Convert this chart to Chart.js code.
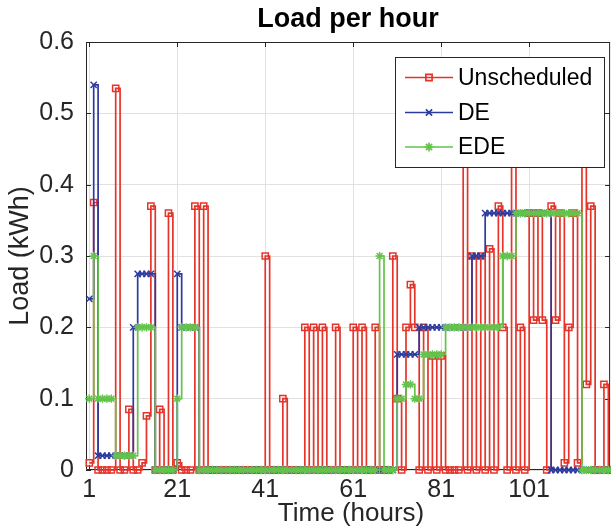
<!DOCTYPE html>
<html>
<head>
<meta charset="utf-8">
<script src="https://cdn.jsdelivr.net/npm/chart.js@4.4.1/dist/chart.umd.min.js"></script>
<style>
  html, body { margin: 0; padding: 0; overflow: hidden; background: #ffffff; }
  #wrap { width: 616px; height: 526px; }
</style>
</head>
<body>
<div id="wrap"><canvas id="c" width="616" height="526"></canvas></div>
<script>
// Hour index of each sample
const hours = [
  1, 2, 3, 4, 5, 6, 7, 8, 9, 10, 11, 12, 13, 14, 15, 16, 17, 18, 19, 20,
  21, 22, 23, 24, 25, 26, 27, 28, 29, 30, 31, 32, 33, 34, 35, 36, 37, 38, 39, 40,
  41, 42, 43, 44, 45, 46, 47, 48, 49, 50, 51, 52, 53, 54, 55, 56, 57, 58, 59, 60,
  61, 62, 63, 64, 65, 66, 67, 68, 69, 70, 71, 72, 73, 74, 75, 76, 77, 78, 79, 80,
  81, 82, 83, 84, 85, 86, 87, 88, 89, 90, 91, 92, 93, 94, 95, 96, 97, 98, 99, 100,
  101, 102, 103, 104, 105, 106, 107, 108, 109, 110, 111, 112, 113, 114, 115, 116, 117, 118, 119, 120
];

// Load (kWh) per hour without scheduling
const unscheduled = [
  0.01, 0.375, 0, 0, 0, 0, 0.535, 0, 0, 0.085, 0, 0, 0.01, 0.076, 0.37, 0, 0.085, 0, 0.36, 0,
  0.01, 0, 0, 0, 0.37, 0, 0.37, 0, 0, 0, 0, 0, 0, 0, 0, 0, 0, 0, 0, 0,
  0.3, 0, 0, 0, 0.1, 0, 0, 0, 0, 0.2, 0, 0.2, 0, 0.2, 0, 0, 0.2, 0, 0, 0,
  0.2, 0, 0.2, 0, 0, 0.2, 0, 0, 0, 0.3, 0.1, 0, 0.2, 0.26, 0.2, 0, 0.2, 0, 0.16, 0,
  0.16, 0, 0, 0, 0, 0.5, 0, 0.3, 0, 0.3, 0, 0.31, 0, 0.37, 0.2, 0, 0.5, 0, 0.2, 0,
  0.36, 0.21, 0.36, 0.21, 0, 0.37, 0.21, 0.36, 0.01, 0.2, 0.36, 0.01, 0.5, 0.12, 0.37, 0, 0, 0.12, 0, 0
];

// Load (kWh) per hour scheduled with DE
const deLoad = [
  0.24, 0.54, 0.02, 0.02, 0.02, 0.02, 0.02, 0.02, 0.02, 0.02, 0.2, 0.275, 0.275, 0.275, 0.275, 0, 0, 0, 0, 0,
  0.275, 0.2, 0.2, 0.2, 0.2, 0, 0, 0, 0, 0, 0, 0, 0, 0, 0, 0, 0, 0, 0, 0,
  0, 0, 0, 0, 0, 0, 0, 0, 0, 0, 0, 0, 0, 0, 0, 0, 0, 0, 0, 0,
  0, 0, 0, 0, 0, 0, 0, 0, 0, 0, 0.162, 0.162, 0.162, 0.162, 0.162, 0.2, 0.2, 0.2, 0.2, 0.2,
  0.2, 0.2, 0.2, 0.2, 0.2, 0.2, 0.2, 0.3, 0.3, 0.3, 0.36, 0.36, 0.36, 0.36, 0.36, 0.36, 0.36, 0.36, 0.36, 0.36,
  0.36, 0.36, 0.36, 0.36, 0.36, 0, 0, 0, 0, 0, 0, 0, 0, 0, 0, 0, 0, 0, 0, 0
];

// Load (kWh) per hour scheduled with EDE
const edeLoad = [
  0.1, 0.3, 0.1, 0.1, 0.1, 0.1, 0.02, 0.02, 0.02, 0.02, 0.02, 0.2, 0.2, 0.2, 0.2, 0, 0, 0, 0, 0,
  0.1, 0.2, 0.2, 0.2, 0.2, 0, 0, 0, 0, 0, 0, 0, 0, 0, 0, 0, 0, 0, 0, 0,
  0, 0, 0, 0, 0, 0, 0, 0, 0, 0, 0, 0, 0, 0, 0, 0, 0, 0, 0, 0,
  0, 0, 0, 0, 0, 0, 0.3, 0, 0, 0, 0.1, 0.1, 0.12, 0.12, 0.1, 0.1, 0.162, 0.162, 0.162, 0.162,
  0.162, 0.2, 0.2, 0.2, 0.2, 0.2, 0.2, 0.2, 0.2, 0.2, 0.2, 0.2, 0.2, 0.2, 0.3, 0.3, 0.3, 0.36, 0.36, 0.36,
  0.36, 0.36, 0.36, 0.36, 0.36, 0.36, 0.36, 0.36, 0.36, 0.36, 0.36, 0.36, 0, 0, 0, 0, 0, 0, 0, 0
];

const seriesNames = ['Unscheduled', 'DE', 'EDE'];
const xTickValues = [1, 21, 41, 61, 81, 101];
const xTickLabels = ['1', '21', '41', '61', '81', '101'];
const yTickValues = [0, 0.1, 0.2, 0.3, 0.4, 0.5, 0.6];
const yTickLabels = ['0', '0.1', '0.2', '0.3', '0.4', '0.5', '0.6'];

const RED = '#e5352b';
const BLUE = '#2c3b9f';
const GREEN = '#63c34b';
const AXIS = '#262626';
const FONT = "'Liberation Sans', Arial, Helvetica, sans-serif";

function pts(ys) { return hours.map((h, i) => ({ x: h, y: ys[i] })); }

function drawMarker(ctx, style, x, y, r) {
  ctx.beginPath();
  if (style === 'rect') {
    const s = r * Math.SQRT1_2;
    ctx.rect(x - s, y - s, 2 * s, 2 * s);
  } else if (style === 'crossRot') {
    const d = r * Math.SQRT1_2;
    ctx.moveTo(x - d, y - d); ctx.lineTo(x + d, y + d);
    ctx.moveTo(x - d, y + d); ctx.lineTo(x + d, y - d);
  } else {
    const d = r * Math.SQRT1_2;
    ctx.moveTo(x - r, y); ctx.lineTo(x + r, y);
    ctx.moveTo(x, y - r); ctx.lineTo(x, y + r);
    ctx.moveTo(x - d, y - d); ctx.lineTo(x + d, y + d);
    ctx.moveTo(x - d, y + d); ctx.lineTo(x + d, y - d);
  }
  ctx.stroke();
}

const decor = {
  id: 'decor',
  beforeDatasetsDraw(chart) {
    const { ctx, chartArea: a, scales } = chart;
    const xs = scales.x, ys = scales.y;
    ctx.save();
    ctx.strokeStyle = AXIS;
    ctx.lineWidth = 1;
    ctx.beginPath();
    ctx.rect(a.left + 0.5, a.top + 0.5, a.right - a.left - 1, a.bottom - a.top - 1);
    // inward tick marks
    const tl = 5;
    yTickValues.forEach(v => {
      const py = Math.round(ys.getPixelForValue(v)) + 0.5;
      ctx.moveTo(a.left, py); ctx.lineTo(a.left + tl, py);
      ctx.moveTo(a.right, py); ctx.lineTo(a.right - tl, py);
    });
    xTickValues.forEach(v => {
      const px = Math.round(xs.getPixelForValue(v)) + 0.5;
      ctx.moveTo(px, a.top); ctx.lineTo(px, a.top + tl);
      ctx.moveTo(px, a.bottom); ctx.lineTo(px, a.bottom - tl);
    });
    ctx.stroke();
    ctx.restore();
  },
  afterDatasetsDraw(chart) {
    const { ctx } = chart;
    // legend box
    const bx = 395.5, by = 57.5, bw = 209, bh = 110;
    ctx.save();
    ctx.fillStyle = '#ffffff';
    ctx.fillRect(bx, by, bw, bh);
    ctx.strokeStyle = AXIS;
    ctx.lineWidth = 1;
    ctx.strokeRect(bx, by, bw, bh);
    const rows = [
      { name: seriesNames[0], color: RED, style: 'rect', y: 77.5 },
      { name: seriesNames[1], color: BLUE, style: 'crossRot', y: 112.5 },
      { name: seriesNames[2], color: GREEN, style: 'star', y: 147 }
    ];
    rows.forEach(r => {
      ctx.strokeStyle = r.color;
      ctx.lineWidth = 1.7;
      ctx.beginPath();
      ctx.moveTo(405, r.y); ctx.lineTo(453, r.y);
      ctx.stroke();
      drawMarker(ctx, r.style, 429, r.y, 4.4);
      ctx.fillStyle = '#000000';
      ctx.font = '23px ' + FONT;
      ctx.textAlign = 'left';
      ctx.textBaseline = 'middle';
      ctx.fillText(r.name, 458, r.y + 1);
    });
    ctx.restore();
  },
  afterDraw(chart) {
    const { ctx, chartArea: a } = chart;
    const cx = (a.left + a.right) / 2;
    ctx.save();
    ctx.fillStyle = '#000000';
    ctx.textAlign = 'center';
    ctx.textBaseline = 'alphabetic';
    ctx.font = 'bold 27px ' + FONT;
    ctx.fillText('Load per hour', cx, 27);
    ctx.fillStyle = AXIS;
    ctx.font = '26px ' + FONT;
    ctx.fillText('Time (hours)', cx + 3, 521);
    ctx.translate(21, (a.top + a.bottom) / 2);
    ctx.rotate(-Math.PI / 2);
    ctx.textBaseline = 'middle';
    ctx.font = '27px ' + FONT;
    ctx.fillText('Load (kWh)', 0, 0);
    ctx.restore();
  }
};

const common = {
  stepped: 'before',
  borderWidth: 1.7,
  pointRadius: 4.4,
  pointBorderWidth: 1.5,
  pointBackgroundColor: 'rgba(0,0,0,0)',
  pointHoverRadius: 4.4,
  fill: false,
  clip: 8
};

new Chart(document.getElementById('c'), {
  type: 'line',
  data: {
    datasets: [
      Object.assign({}, common, { label: seriesNames[0], data: pts(unscheduled), borderColor: RED, pointBorderColor: RED, pointStyle: 'rect', order: 3 }),
      Object.assign({}, common, { label: seriesNames[1], data: pts(deLoad), borderColor: BLUE, pointBorderColor: BLUE, pointStyle: 'crossRot', order: 2 }),
      Object.assign({}, common, { label: seriesNames[2], data: pts(edeLoad), borderColor: GREEN, pointBorderColor: GREEN, pointStyle: 'star', pointRadius: 4.2, order: 1 })
    ]
  },
  options: {
    responsive: false,
    animation: false,
    devicePixelRatio: 1,
    events: [],
    layout: { padding: { top: 42, left: 0, right: 4, bottom: 0 } },
    plugins: { legend: { display: false }, title: { display: false }, tooltip: { enabled: false } },
    scales: {
      x: {
        type: 'linear',
        min: 0.25,
        max: 119.4,
        afterBuildTicks: s => { s.ticks = xTickValues.map(v => ({ value: v })); },
        afterFit: s => { s.height = 56; },
        grid: { color: '#e1e1e1', lineWidth: 1, drawTicks: false },
        border: { display: false },
        ticks: {
          autoSkip: false, maxRotation: 0, padding: 5, color: AXIS,
          font: { family: FONT, size: 25 },
          callback: (v, i) => xTickLabels[i]
        }
      },
      y: {
        min: 0,
        max: 0.6,
        afterBuildTicks: s => { s.ticks = yTickValues.map(v => ({ value: v })); },
        afterFit: s => { s.width = 86; },
        grid: { color: '#e1e1e1', lineWidth: 1, drawTicks: false },
        border: { display: false },
        ticks: {
          padding: 12, color: AXIS,
          font: { family: FONT, size: 25 },
          callback: (v, i) => yTickLabels[i]
        }
      }
    }
  },
  plugins: [decor]
});
</script>
</body>
</html>
